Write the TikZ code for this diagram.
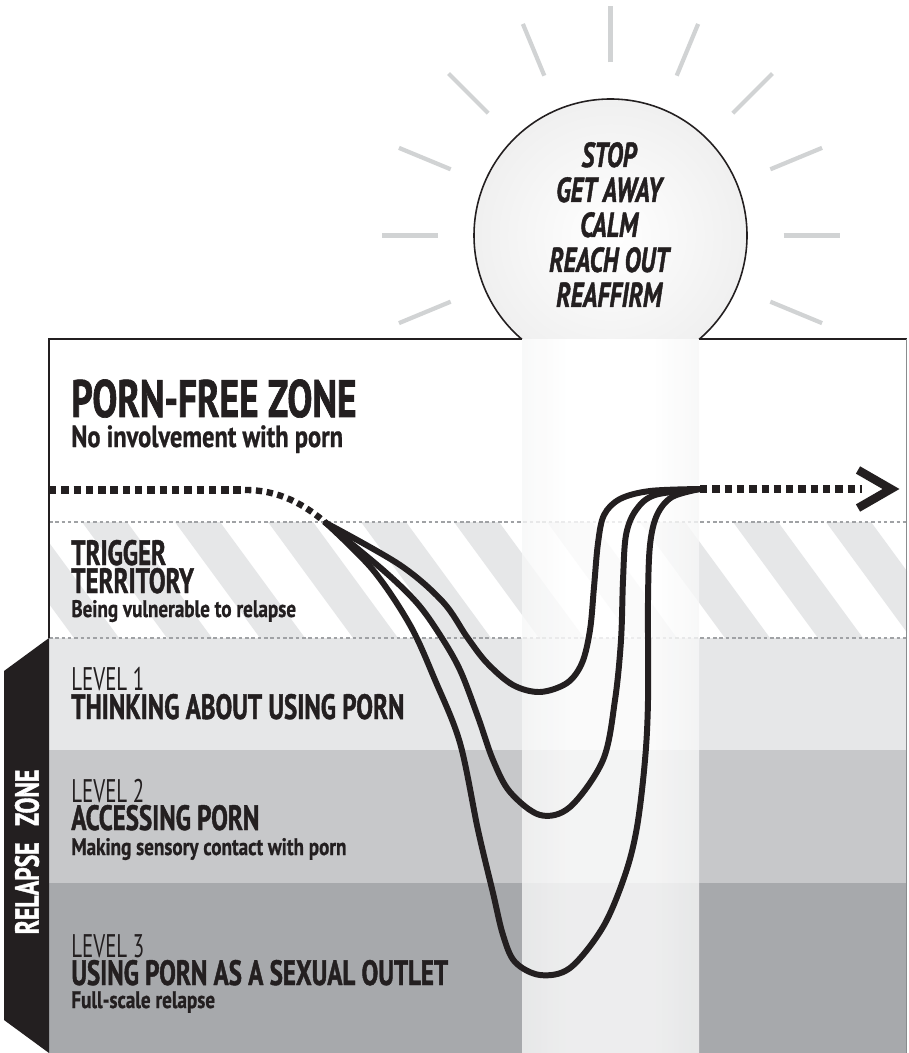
\documentclass[tikz,border=0pt]{standalone}
\usepackage{fontspec}
\usetikzlibrary{calc}
\setmainfont{PT Sans}
\newfontfamily\cnd[FakeStretch=0.71, BoldFeatures={FakeBold=1.2}, BoldItalicFeatures={FakeBold=1.2}]{PT Sans}
\newfontfamily\cns[FakeStretch=0.8, BoldFeatures={FakeBold=0.8}]{PT Sans}
\newfontfamily\cnl[FakeStretch=0.64]{PT Sans}
\definecolor{ink}{HTML}{231F20}
\definecolor{lvone}{HTML}{E6E7E8}
\definecolor{lvtwo}{HTML}{C7C8CA}
\definecolor{lvthree}{HTML}{A7A9AC}
\definecolor{raycol}{HTML}{D1D3D4}
\definecolor{sepcol}{HTML}{A0A2A5}
\definecolor{pla}{HTML}{D9DADC}
\definecolor{plb}{HTML}{EEEFEF}
\definecolor{edgecol}{HTML}{8A8C8E}
\pgfdeclarehorizontalshading{pillarshade}{100bp}{color(0bp)=(pla); color(10bp)=(plb); color(38bp)=(white); color(62bp)=(white); color(88bp)=(plb); color(100bp)=(pla)}
\tikzset{
  sep/.style={draw=sepcol, line width=0.6pt, dash pattern=on 2pt off 1.6pt},
  rayline/.style={draw=raycol, line width=2.4pt},
  curve/.style={draw=ink, line width=3.4pt, line join=round, line cap=round},
  dotline/.style={draw=ink, line width=4.6pt, dash pattern=on 4.2pt off 2.8pt},
  dotthin/.style={draw=ink, line width=3.6pt, dash pattern=on 3.6pt off 2.6pt},
  lbl/.style={anchor=base west, inner sep=0pt, text=ink},
  bighead/.style={lbl, font=\cnd\bfseries\fontsize{30}{30}\selectfont},
  head/.style={lbl, font=\cnd\bfseries\fontsize{20}{20}\selectfont},
  levelhd/.style={lbl, font=\cnl\fontsize{18.6}{18.6}\selectfont},
  subbig/.style={lbl, font=\cns\bfseries\fontsize{17.4}{17.4}\selectfont},
  sub/.style={lbl, font=\cns\bfseries\fontsize{13.6}{13.6}\selectfont},
  circtext/.style={anchor=base, inner sep=0pt, text=ink, font=\cnd\bfseries\itshape\fontsize{19.8}{19.8}\selectfont},
}
\begin{document}
\begin{tikzpicture}[x=0.02cm, y=-0.02cm]
\useasboundingbox (0,0) rectangle (908,1053);
\fill[white] (0,0) rectangle (908,1053);
% zones
\fill[white] (49,339) rectangle (907,522);
\fill[white] (49,522) rectangle (907,638);
\begin{scope}
  \clip (49,522) rectangle (907,638);
  \foreach \s in {-104,-11,...,940} {
    \fill[lvone] (\s,522) -- ++(45,0) -- ++(85,116) -- ++(-45,0) -- cycle;
  }
\end{scope}
\fill[lvone] (49,638) rectangle (907,750);
\fill[lvtwo] (49,750) rectangle (907,883);
\fill[lvthree] (49,883) rectangle (907,1053);
\draw[sep] (49,522) -- (907,522);
\draw[sep] (49,638) -- (907,638);
% pillar
\shade[shading=pillarshade, fill opacity=0.8] (522,339) rectangle (699,1053);
% circle
\coordinate (c) at (610.5,235.5);
\begin{scope}
  \clip (300,0) rectangle (908,339);
  \shade[inner color=white, outer color=black!6] (c) circle (136.5);
  \draw[ink, line width=0.9pt] (c) circle (136.5);
\end{scope}
% rays
\foreach \a in {-22.5,0,22.5,45,67.5,90,112.5,135,157.5,180,202.5} {
  \draw[rayline] ($(c)+(-\a:173)$) -- ($(c)+(-\a:229)$);
}
% borders
\draw[ink, line width=0.9pt] (49,638) -- (49,339) -- (522,339);
\draw[ink, line width=0.9pt] (699,339) -- (907,339);
\draw[edgecol, line width=0.7pt] (906.5,339) -- (906.5,1053);
% relapse zone tab
\fill[ink] (49,638) -- (4,671) -- (4,1020) -- (49,1053) -- cycle;
\node[rotate=90, inner sep=0pt, text=white, font=\cnd\bfseries\fontsize{19}{19}\selectfont] (rz) at (27,852) {RELAPSE\hspace{0.5em}ZONE};
% circle text
\node[circtext] (s1) at (609,167) {STOP};
\node[circtext] (s2) at (609,202) {GET AWAY};
\node[circtext] (s3) at (609,237) {CALM};
\node[circtext] (s4) at (609,272) {REACH OUT};
\node[circtext] (s5) at (609,307) {REAFFIRM};
% zone texts
\node[bighead] (pf) at (71,417) {PORN-FREE ZONE};
\node[subbig] (pfs) at (71,447) {No involvement with porn};
\node[head] (tt1) at (71,565) {TRIGGER};
\node[head] (tt2) at (71,593) {TERRITORY};
\node[sub] (tts) at (71,617) {Being vulnerable to relapse};
\node[levelhd] (l1) at (71,690) {LEVEL 1};
\node[head] (l1h) at (71,719) {THINKING ABOUT USING PORN};
\node[levelhd] (l2) at (71,802) {LEVEL 2};
\node[head] (l2h) at (71,830) {ACCESSING PORN};
\node[sub] (l2s) at (71,855) {Making sensory contact with porn};
\node[levelhd] (l3) at (71,957) {LEVEL 3};
\node[head] (l3h) at (71,985) {USING PORN AS A SEXUAL OUTLET};
\node[sub] (l3s) at (71,1008) {Full-scale relapse};
% path
\coordinate (left) at (49,490);
\coordinate (bend) at (245,490);
\coordinate (start) at (326,523);
\coordinate (join) at (700,489);
\coordinate (tip) at (891,489);
\draw[dotline] (left) -- (bend);
\draw[dotthin] (bend) .. controls (280,490) and (305,505) .. (start);
\draw[curve] plot[smooth, tension=0.55] coordinates {(start) (400,565) (443,602) (467,637) (487,663) (513,685) (540,692) (567,683) (582,663) (590,630) (594,587) (598,543) (604,515) (620,499) (650,491) (join)};
\draw[curve] plot[smooth, tension=0.55] coordinates {(start) (383,570) (417,603) (440,635) (460,670) (478,717) (493,760) (510,792) (540,815) (570,807) (603,760) (615,700) (621,640) (623,580) (626,535) (636,510) (655,495) (join)};
\draw[curve] plot[smooth, tension=0.55] coordinates {(start) (373,570) (410,625) (435,680) (460,743) (478,830) (493,893) (503,935) (515,962) (540,975) (570,968) (603,927) (625,875) (637,827) (645,760) (648,700) (648,600) (650,545) (657,515) (672,497) (join)};
\draw[dotline] (join) -- (862,489);
\draw[ink, line width=4.8pt, line join=miter] ($(tip)+(-33,-19)$) -- (tip) -- ($(tip)+(-33,19)$);
\end{tikzpicture}
\end{document}
